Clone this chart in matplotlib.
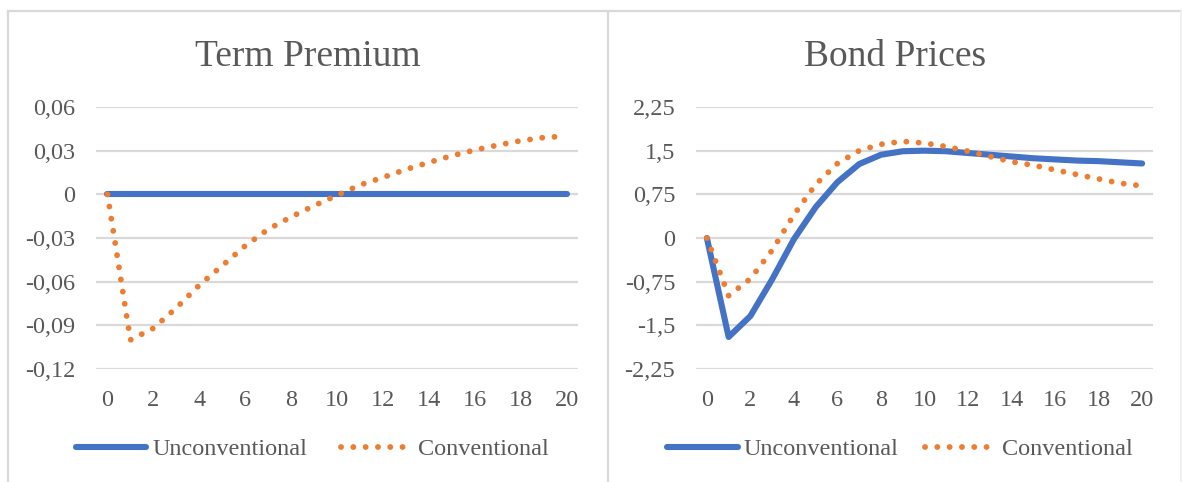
import matplotlib
matplotlib.use("Agg")
import matplotlib.pyplot as plt
from matplotlib.lines import Line2D
from matplotlib.ticker import FuncFormatter

# Impulse responses over 21 quarters
periods = list(range(21))

term_unconv = [0.0] * 21
term_conv = [0.0, -0.100, -0.092, -0.078, -0.0624, -0.049, -0.0354, -0.024,
             -0.0155, -0.0078, -0.0007, 0.0064, 0.0116, 0.0171, 0.0219,
             0.0265, 0.0304, 0.0338, 0.0368, 0.039, 0.040]

bond_unconv = [0.0, -1.70, -1.34, -0.71, -0.02, 0.53, 0.96, 1.27, 1.43, 1.49,
               1.50, 1.49, 1.46, 1.43, 1.40, 1.37, 1.35, 1.33, 1.32, 1.30, 1.28]
bond_conv = [0.0, -0.99, -0.70, -0.21, 0.40, 0.92, 1.28, 1.50, 1.61, 1.66,
             1.63, 1.57, 1.49, 1.40, 1.31, 1.25, 1.17, 1.09, 1.015, 0.94, 0.895]

term_ticks = [-0.12, -0.09, -0.06, -0.03, 0, 0.03, 0.06]
bond_ticks = [-2.25, -1.5, -0.75, 0, 0.75, 1.5, 2.25]
x_ticks = list(range(0, 21, 2))

BLUE = "#4472C4"
ORANGE = "#ED7D31"
TEXT = "#595959"
GRID = "#D9D9D9"

plt.rcParams["font.family"] = ["Liberation Serif", "DejaVu Serif"]

W, H = 1182, 482
fig = plt.figure(figsize=(W / 100, H / 100), dpi=100)

# Panel frames
frame_kw = dict(color=GRID, lw=1.6, transform=fig.transFigure)
fig.add_artist(Line2D([7.5 / W, 1181 / W], [1 - 11 / H, 1 - 11 / H], **frame_kw))
fig.add_artist(Line2D([7.5 / W, 7.5 / W], [0, 1 - 11 / H], **frame_kw))
fig.add_artist(Line2D([608 / W, 608 / W], [0, 1 - 11 / H], **frame_kw))
fig.add_artist(Line2D([1181 / W, 1181 / W], [0, 1 - 11 / H], color="#EEEEEE",
                      lw=1.2, transform=fig.transFigure))


def comma_fmt(v, _pos):
    if abs(v) < 1e-12:
        return "0"
    s = f"{v:.2f}".rstrip("0").rstrip(".")
    return s.replace(".", ",")


dot_style = (0, (0.01, 2.1))


def make_panel(rect, title, unconv, conv, ticks, title_x, legend_x, colsp):
    ax = fig.add_axes(rect)
    ax.set_xlim(-0.5, 20.5)
    ax.set_ylim(ticks[0], ticks[-1])
    ax.set_yticks(ticks)
    ax.set_xticks(x_ticks)
    ax.yaxis.set_major_formatter(FuncFormatter(comma_fmt))
    ax.grid(axis="y", color=GRID, lw=1.6)
    ax.set_axisbelow(True)
    for sp in ax.spines.values():
        sp.set_visible(False)
    ax.tick_params(length=0, labelsize=17.5, colors=TEXT)
    ax.tick_params(axis="x", pad=15)
    ax.tick_params(axis="y", pad=15)

    ax.plot(periods, unconv, color=BLUE, lw=4.4, solid_capstyle="round",
            solid_joinstyle="round", label="Unconventional", zorder=3)
    ax.plot(periods, conv, color=ORANGE, lw=4.2, linestyle=dot_style,
            dash_capstyle="round", label="Conventional", zorder=4)

    fig.text(title_x / W, 1 - 57 / H, title, ha="center", va="center",
             fontsize=27, color=TEXT)

    ax.legend(loc="center", bbox_to_anchor=(legend_x / W, 1 - 449 / H),
              bbox_transform=fig.transFigure, ncol=2, frameon=False,
              fontsize=17.5, handlelength=2.9, handletextpad=0.25,
              columnspacing=colsp, labelcolor=TEXT)
    return ax


make_panel([96 / W, 1 - 369 / H, 482 / W, 262 / H], "Term Premium",
           term_unconv, term_conv, term_ticks, 308, 312, 1.4)
make_panel([696 / W, 1 - 369 / H, 457 / W, 262 / H], "Bond Prices",
           bond_unconv, bond_conv, bond_ticks, 895, 900, 1.1)

fig.savefig("out.png", dpi=100)
